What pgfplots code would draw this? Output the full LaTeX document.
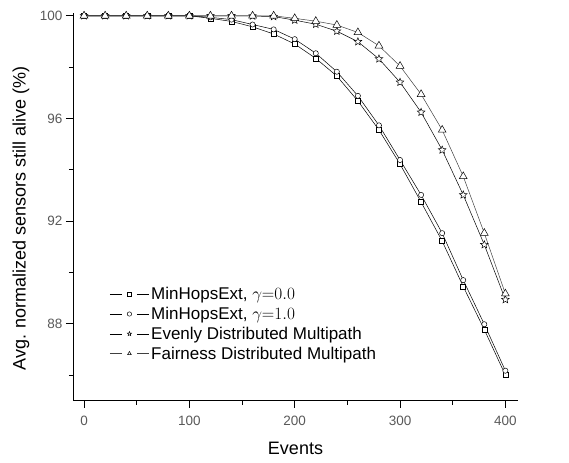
\documentclass[border=0pt]{standalone}
\usepackage{pgfplots}
\pgfplotsset{compat=1.18}
\usepackage{fontspec}
\setmainfont{Liberation Sans}

% open five-pointed star
\pgfdeclareplotmark{ostar}{%
  \pgfpathmoveto{\pgfpointpolar{90}{\pgfplotmarksize}}%
  \pgfpathlineto{\pgfpointpolar{126}{0.45\pgfplotmarksize}}%
  \pgfpathlineto{\pgfpointpolar{162}{\pgfplotmarksize}}%
  \pgfpathlineto{\pgfpointpolar{198}{0.45\pgfplotmarksize}}%
  \pgfpathlineto{\pgfpointpolar{234}{\pgfplotmarksize}}%
  \pgfpathlineto{\pgfpointpolar{270}{0.45\pgfplotmarksize}}%
  \pgfpathlineto{\pgfpointpolar{306}{\pgfplotmarksize}}%
  \pgfpathlineto{\pgfpointpolar{342}{0.45\pgfplotmarksize}}%
  \pgfpathlineto{\pgfpointpolar{18}{\pgfplotmarksize}}%
  \pgfpathlineto{\pgfpointpolar{54}{0.45\pgfplotmarksize}}%
  \pgfpathclose
  \pgfusepathqfillstroke}

\pgfplotstableread{
x    sq     ci     st     tr
0    100    100    100    100
20   100    100    100    100
40   100    100    100    100
60   100    100    100    100
80   100    100    100    100
100  100    100    100    100
120  99.90  99.94  100    100
140  99.78  99.85  100    100
160  99.57  99.66  99.99  100
180  99.29  99.47  99.97  100
200  98.90  99.09  99.83  99.90
220  98.34  98.54  99.67  99.79
240  97.65  97.82  99.40  99.64
260  96.68  96.88  98.99  99.35
280  95.55  95.73  98.32  98.83
300  94.22  94.38  97.41  98.04
320  92.74  93.02  96.24  96.94
340  91.22  91.53  94.77  95.55
360  89.45  89.70  93.02  93.74
380  87.77  87.98  91.08  91.53
400  86.00  86.17  88.94  89.17
}\datatable

\begin{document}
\begin{tikzpicture}
\begin{axis}[
  name=ax,
  scale only axis,
  width=445pt, height=388pt,
  xmin=-10.5, xmax=412,
  ymin=85, ymax=100.12,
  axis x line=bottom, axis y line=left,
  axis line style={-, line width=1pt},
  xtick={0,100,200,300,400},
  minor xtick={50,150,250,350},
  ytick={88,92,96,100},
  minor ytick={86,90,94,98},
  tick align=outside,
  major tick length=7pt, minor tick length=4pt,
  tick style={line width=0.8pt, black},
  /pgf/number format/assume math mode=true,
  tick label style={font=\fontsize{13.5}{15}\selectfont, text=black!65},
  xticklabel style={yshift=-5pt},
  xlabel={Events},
  ylabel={Avg. normalized sensors still alive (\%)},
  every axis y label/.style={at={(axis description cs:-0.117,0.47)}, rotate=90, anchor=center,
    font=\fontsize{18}{20}\selectfont},
  every axis x label/.style={at={(axis description cs:0.5,-0.123)}, anchor=center,
    font=\fontsize{18}{20}\selectfont},
  clip=false,
  legend style={draw=none, fill=none, at={(axis description cs:0.082,0.298)}, anchor=north west,
    font=\fontsize{17}{19}\selectfont, inner sep=0pt, row sep=2pt, cells={anchor=west}},
  legend image code/.code={
    \draw[#1] (0pt,0pt)--(12pt,0pt) (27pt,0pt)--(39pt,0pt);
    \draw[#1, mark size=2.2pt] plot[only marks] coordinates {(19.5pt,0pt)};
  },
  every axis plot/.append style={line width=0.5pt},
]
\addplot[black, mark=square*, mark size=2.5pt, mark options={fill=white, draw=black, solid}] table[x=x, y=sq] {\datatable};
\addlegendentry{MinHopsExt, $\gamma{=}0.0$}
\addplot[black, mark=*, mark size=2.6pt, mark options={fill=white, draw=black, solid}] table[x=x, y=ci] {\datatable};
\addlegendentry{MinHopsExt, $\gamma{=}1.0$}
\addplot[black, mark=ostar, mark size=4pt, mark options={fill=white, draw=black, solid}] table[x=x, y=st] {\datatable};
\addlegendentry{Evenly Distributed Multipath}
\addplot[black!75, mark=triangle*, mark size=4.5pt, mark options={fill=white, draw=black, solid}] table[x=x, y=tr] {\datatable};
\addlegendentry{Fairness Distributed Multipath}
\end{axis}
\path ([xshift=-73pt,yshift=-61.3pt]ax.south west) rectangle ([xshift=51pt,yshift=12.7pt]ax.north east);
\end{tikzpicture}
\end{document}
